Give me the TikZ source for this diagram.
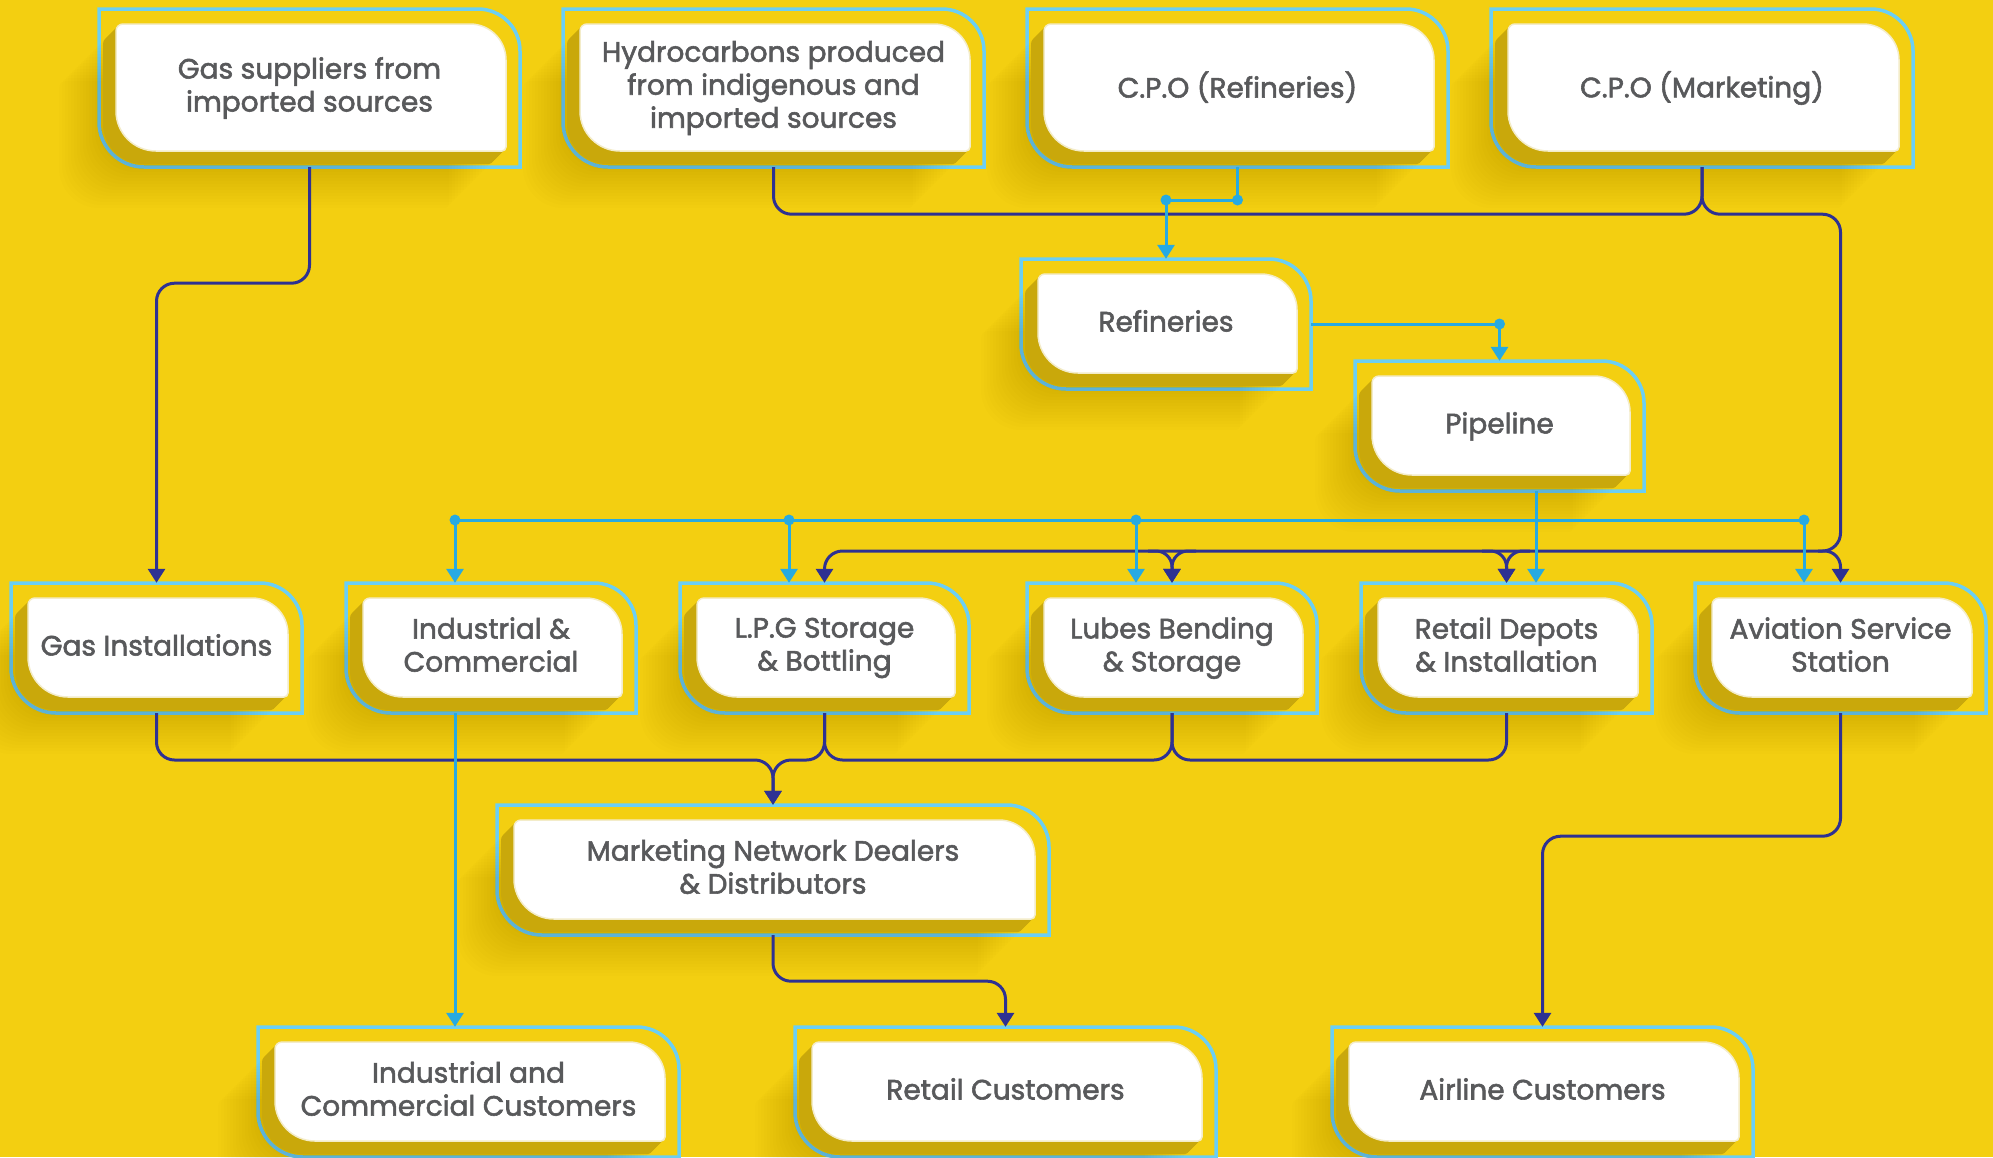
\documentclass[tikz,border=0pt]{standalone}
\usepackage{fontspec}
\setmainfont{Poppins}[FakeBold=2]
\usetikzlibrary{arrows.meta}
\definecolor{bg}{HTML}{F3CF11}
\definecolor{navy}{HTML}{2E3192}
\definecolor{cyanl}{HTML}{27AAE1}
\definecolor{frameblue}{HTML}{6BCFF4}
\definecolor{darkbase}{HTML}{C9A80B}
\definecolor{txt}{HTML}{58595B}
\newcommand\mystrut{\vrule width 0pt height 22pt depth 7pt\relax}
\newcommand\nl{\\\mystrut}
% #1 options, #2 x1, #3 y1, #4 x2, #5 y2, #6 r top-left, #7 r top-right, #8 r bottom-right, #9 r bottom-left
\newcommand\rpath[9]{\path[#1] (#2,{#3+#6}) .. controls (#2,{#3+0.448*#6}) and ({#2+0.448*#6},#3) .. ({#2+#6},#3)
 -- ({#4-#7},#3) .. controls ({#4-0.448*#7},#3) and (#4,{#3+0.448*#7}) .. (#4,{#3+#7})
 -- (#4,{#5-#8}) .. controls (#4,{#5-0.448*#8}) and ({#4-0.448*#8},#5) .. ({#4-#8},#5)
 -- ({#2+#9},#5) .. controls ({#2+0.448*#9},#5) and (#2,{#5-0.448*#9}) .. (#2,{#5-#9}) -- cycle;}
\newcommand\facecoords[4]{\pgfmathsetmacro\fxa{#1+17}\pgfmathsetmacro\fya{#2+15}\pgfmathsetmacro\fxb{#3-14}\pgfmathsetmacro\fyb{#4-16}}
\newcommand\framepass[6]{\rpath{draw=frameblue,line width=3.5}{#2}{#3}{#4}{#5}{0}{42}{0}{45}}
\newcommand\shadowpass[6]{\facecoords{#2}{#3}{#4}{#5}%
 \foreach \s in {3,6,...,57}{\rpath{fill=black,fill opacity=0.007,shift={(-\s,\s)}}{\fxa}{\fya}{\fxb}{\fyb}{7}{36}{4}{40}}}
\newcommand\facepass[6]{\facecoords{#2}{#3}{#4}{#5}%
 \foreach \s in {1,...,13}{\rpath{fill=darkbase,shift={(-\s,\s)}}{\fxa}{\fya}{\fxb}{\fyb}{7}{36}{4}{40}}%
 \rpath{fill=white,draw=white!78!darkbase,line width=1.5}{\fxa}{\fya}{\fxb}{\fyb}{7}{36}{4}{40}%
 \node[boxtxt,minimum width={#4-#2},minimum height={#5-#3}] (#1) at ({(#2+#4)/2},{(#3+#5)/2}) {#6};}
\newcommand\allboxes[1]{%
 #1{gs}{99}{9}{520}{167}{Gas suppliers from\nl imported sources}%
 #1{hy}{563}{9}{984}{167}{Hydrocarbons produced\nl from indigenous and\nl imported sources}%
 #1{cr}{1027}{9}{1448}{167}{C.P.O (Refineries)}%
 #1{cm}{1491}{9}{1913}{167}{C.P.O (Marketing)}%
 #1{rf}{1021}{259}{1311}{389}{Refineries}%
 #1{pl}{1355}{361}{1644}{491}{Pipeline}%
 #1{gi}{11}{583}{302}{713}{Gas Installations}%
 #1{ic}{346}{583}{636}{713}{Industrial \&\nl Commercial}%
 #1{lp}{680}{583}{969}{713}{L.P.G Storage\nl \& Bottling}%
 #1{lb}{1027}{583}{1317}{713}{Lubes Bending\nl \& Storage}%
 #1{rd}{1361}{583}{1652}{713}{Retail Depots\nl \& Installation}%
 #1{av}{1695}{583}{1986}{713}{Aviation Service\nl Station}%
 #1{mk}{497}{805}{1049}{935}{Marketing Network Dealers\nl \& Distributors}%
 #1{icc}{258}{1027}{679}{1157}{Industrial and\nl Commercial Customers}%
 #1{rc}{795}{1027}{1216}{1157}{Retail Customers}%
 #1{ac}{1332}{1027}{1753}{1157}{Airline Customers}%
}
\begin{document}
\begin{tikzpicture}[x=1pt,y=-1pt,
 boxtxt/.style={inner sep=0pt,align=center,text=txt,font=\fontsize{28}{33}\selectfont,execute at begin node=\mystrut},
 navyline/.style={draw=navy,line width=3,rounded corners=18},
 cyanline/.style={draw=cyanl,line width=3},
 arrowend/.style={-{Triangle[width=17pt,length=14pt]}}]
\fill[bg] (0,0) rectangle (1993,1157);
\useasboundingbox (0,0) rectangle (1993,1157);
\allboxes\framepass
\allboxes\shadowpass
\allboxes\facepass
% coordinates
\coordinate (busN) at (0,551);
\coordinate (busS) at (0,760);
\coordinate (lbl) at (1148,551);
\coordinate (lbr) at (1196,551);
\coordinate (rdl) at (1482,551);
\coordinate (rdr) at (1530,551);
\coordinate (avb) at (1818,551);
\coordinate (c1) at (455,520);
\coordinate (c2) at (789,520);
\coordinate (c3) at (1136,520);
\coordinate (c4) at (1804,520);
\coordinate (pd) at (1536,0);
\coordinate (d1) at (1237.5,200);
\coordinate (d2) at (1166,200);
\coordinate (d3) at (1499.5,324);
% navy connectors
\draw[navyline,arrowend] (gs.south) -- ++(0,116) -| (gi.north);
\draw[navyline] (hy.south) -- ++(0,47) -| (cm.south);
\draw[navyline,arrowend] (cm.south) -- ++(0,47) -| (av.north |- busN) -| (lp.north);
\draw[navyline,arrowend,rounded corners=16] (lbl) -| (lb.north);
\draw[navyline,arrowend,rounded corners=16] (lbr) -| (lb.north);
\draw[navyline,arrowend,rounded corners=16] (rdl) -| (rd.north);
\draw[navyline,arrowend,rounded corners=16] (rdr) -| (rd.north);
\draw[navyline,arrowend,rounded corners=16] (avb) -| (av.north);
\draw[navyline,arrowend] (gi.south) -- (gi.south |- busS) -| (mk.north);
\draw[navyline,arrowend] (lp.south) -- (lp.south |- busS) -| (mk.north);
\draw[navyline] (lp.south) -- (lp.south |- busS) -| (lb.south);
\draw[navyline] (lb.south) -- (lb.south |- busS) -| (rd.south);
\draw[navyline,arrowend] (mk.south) -- ++(0,46) -| (rc.north);
\draw[navyline,arrowend] (av.south) -- ++(0,123) -| (ac.north);
% cyan connectors
\draw[cyanline] (cr.south) -- (d1) -- (d2);
\draw[cyanline,arrowend] (d2) -- (rf.north);
\draw[cyanline] (rf.east) -- (d3);
\draw[cyanline,arrowend] (d3) -- (pl.north);
\draw[cyanline] (c1) -- (c4);
\draw[cyanline,arrowend] (c1) -- (c1 |- ic.north);
\draw[cyanline,arrowend] (c2) -- (c2 |- lp.north);
\draw[cyanline,arrowend] (c3) -- (c3 |- lb.north);
\draw[cyanline,arrowend] (c4) -- (c4 |- av.north);
\draw[cyanline,arrowend] (pd |- pl.south) -- (pd |- rd.north);
\draw[cyanline,arrowend] (c1 |- ic.south) -- (c1 |- icc.north);
\foreach \p in {d1,d2,d3,c1,c2,c3,c4} {\fill[cyanl] (\p) circle[radius=5.5pt];}
\end{tikzpicture}
\end{document}
